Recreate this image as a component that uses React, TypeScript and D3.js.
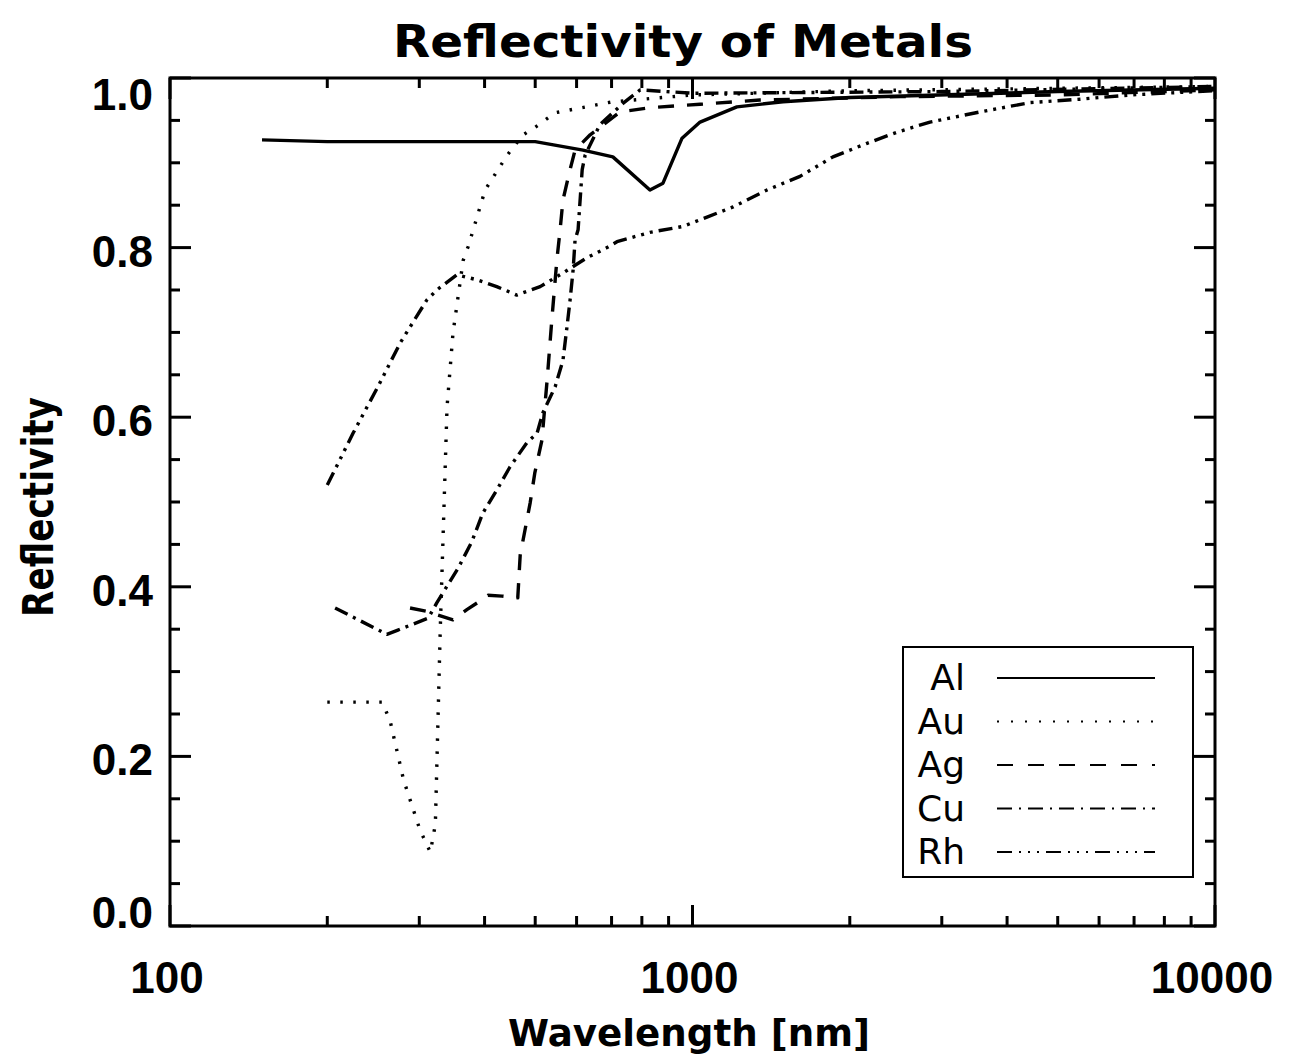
import React from 'react';
import * as d3 from 'd3';

const W = 1291;
const H = 1060;
const margin = { left: 170, right: 76, top: 78, bottom: 134 };

// wavelength [nm], reflectivity
const alWave = [150, 200, 500, 617, 704, 829, 878, 955, 1034, 1216, 1490, 2000, 5000, 10000];
const alRefl = [0.927, 0.925, 0.925, 0.915, 0.907, 0.868, 0.876, 0.929, 0.948, 0.966, 0.972, 0.977, 0.984, 0.988];

const auWave = [200, 255, 264, 280, 301, 315, 322, 329, 339, 348, 364, 372, 401, 442, 474, 500, 546, 704, 1000, 2000, 10000];
const auRefl = [0.264, 0.264, 0.241, 0.172, 0.113, 0.087, 0.12, 0.349, 0.612, 0.699, 0.785, 0.801, 0.868, 0.909, 0.933, 0.942, 0.959, 0.972, 0.98, 0.985, 0.99];

const agWave = [288, 310, 348, 370, 387, 406, 432, 463, 468, 478, 489, 499, 515, 527, 538, 550, 558, 565, 583, 596, 637, 727, 829, 1034, 1346, 2500, 5000, 10000];
const agRefl = [0.375, 0.371, 0.361, 0.373, 0.381, 0.39, 0.389, 0.387, 0.4375, 0.467, 0.499, 0.534, 0.573, 0.644, 0.715, 0.785, 0.821, 0.856, 0.892, 0.915, 0.933, 0.96, 0.965, 0.969, 0.974, 0.978, 0.98, 0.986];

const cuWave = [207, 260, 273, 312, 324, 333, 356, 378, 397, 422, 447, 482, 504, 517, 546, 565, 575, 583, 591, 596, 604, 615, 623, 665, 736, 794, 1000, 3000, 10000];
const cuRefl = [0.375, 0.344, 0.349, 0.363, 0.381, 0.393, 0.422, 0.453, 0.487, 0.514, 0.541, 0.57, 0.581, 0.605, 0.636, 0.667, 0.706, 0.738, 0.774, 0.809, 0.821, 0.892, 0.909, 0.945, 0.97, 0.986, 0.982, 0.984, 0.99];

const rhWave = [200, 224, 250, 276, 310, 324, 354, 387, 422, 461, 511, 565, 628, 686, 717, 829, 959, 1066, 1196, 1389, 1606, 1857, 2158, 2461, 2848, 3550, 4430, 5518, 6875, 8573, 10000];
const rhRefl = [0.52, 0.581, 0.636, 0.688, 0.738, 0.75, 0.768, 0.762, 0.754, 0.744, 0.754, 0.77, 0.788, 0.8, 0.807, 0.818, 0.825, 0.836, 0.848, 0.868, 0.884, 0.907, 0.923, 0.936, 0.948, 0.96, 0.971, 0.975, 0.98, 0.983, 0.985];

const metals = ['Al', 'Au', 'Ag', 'Cu', 'Rh'];
const waves = [alWave, auWave, agWave, cuWave, rhWave];
const refls = [alRefl, auRefl, agRefl, cuRefl, rhRefl];
const dashes = ['', '2.5 10.5', '16 13', '14 6 3 6', '14 6 3 6 3 6 3 6'];
const legendDashes = ['', '2 12', '16 15', '15 7 2 7', '15 7 2 7 2 7 2 7'];

const xTicks = [100, 1000, 10000];
const xTickLabels = ['100', '1000', '10000'];
const yTicks = [0, 0.2, 0.4, 0.6, 0.8, 1.0];
const yTickLabels = ['0.0', '0.2', '0.4', '0.6', '0.8', '1.0'];

export default function App() {
  const x = d3.scaleLog().domain([100, 10000]).range([margin.left, W - margin.right]);
  const y = d3.scaleLinear().domain([0, 1]).range([H - margin.bottom, margin.top]);
  const x0 = x.range()[0], x1 = x.range()[1];
  const y0 = y.range()[0], y1 = y.range()[1];

  const line = d3.line<[number, number]>().x(d => x(d[0])).y(d => y(d[1]));

  const minorX: number[] = [];
  [100, 1000].forEach(dec => { for (let k = 2; k <= 9; k++) minorX.push(dec * k); });
  const minorY = d3.range(0, 1.0001, 0.05).filter(v => Math.abs(v * 5 - Math.round(v * 5)) > 1e-6);

  const tickFont = "'Liberation Sans', Arial, sans-serif";
  const legX = 903, legY = 647;

  // IDL keeps the end labels inside the axis range
  const yLabelBase = (i: number, t: number) => {
    if (i === 0) return y(t) + 2;
    if (i === yTicks.length - 1) return y(t) + 32;
    return y(t) + 19;
  };

  return (
    <svg width={W} height={H} style={{ position: 'absolute', left: 0, top: 0, background: '#fff' }}>
      <rect width={W} height={H} fill="#fff" />
      {/* data */}
      {metals.map((m, i) => (
        <path key={m} d={line(waves[i].map((w, j) => [w, refls[i][j]] as [number, number])) || ''}
          fill="none" stroke="#000" strokeWidth={3.4} strokeDasharray={dashes[i]} strokeLinejoin="round" />
      ))}
      {/* frame */}
      <rect x={x0} y={y1} width={x1 - x0} height={y0 - y1} fill="none" stroke="#000" strokeWidth={3} />
      {/* x ticks */}
      {xTicks.map(t => (
        <g key={'xt' + t}>
          <line x1={x(t)} x2={x(t)} y1={y0} y2={y0 - 21} stroke="#000" strokeWidth={3} />
          <line x1={x(t)} x2={x(t)} y1={y1} y2={y1 + 21} stroke="#000" strokeWidth={3} />
        </g>
      ))}
      {minorX.map(t => (
        <g key={'xm' + t}>
          <line x1={x(t)} x2={x(t)} y1={y0} y2={y0 - 10} stroke="#000" strokeWidth={3} />
          <line x1={x(t)} x2={x(t)} y1={y1} y2={y1 + 10} stroke="#000" strokeWidth={3} />
        </g>
      ))}
      {yTicks.map(t => (
        <g key={'yt' + t}>
          <line x1={x0} x2={x0 + 21} y1={y(t)} y2={y(t)} stroke="#000" strokeWidth={3} />
          <line x1={x1} x2={x1 - 21} y1={y(t)} y2={y(t)} stroke="#000" strokeWidth={3} />
        </g>
      ))}
      {minorY.map(t => (
        <g key={'ym' + t}>
          <line x1={x0} x2={x0 + 10} y1={y(t)} y2={y(t)} stroke="#000" strokeWidth={3} />
          <line x1={x1} x2={x1 - 10} y1={y(t)} y2={y(t)} stroke="#000" strokeWidth={3} />
        </g>
      ))}
      {/* tick labels */}
      {yTicks.map((t, i) => (
        <text key={'yl' + t} x={x0 - 17} y={yLabelBase(i, t)} textAnchor="end" fontFamily={tickFont}
          fontWeight="bold" fontSize={44}>{yTickLabels[i]}</text>
      ))}
      {xTicks.map((t, i) => (
        <text key={'xl' + t} x={x(t) - 3} y={y0 + 67} textAnchor="middle" fontFamily={tickFont}
          fontWeight="bold" fontSize={44}>{xTickLabels[i]}</text>
      ))}
      {/* titles */}
      <text x={393} y={57} fontFamily="'DejaVu Sans', sans-serif" fontWeight="bold" fontSize={44}
        textLength={580} lengthAdjust="spacingAndGlyphs">Reflectivity of Metals</text>
      <text x={508} y={1046} fontFamily="'DejaVu Sans', sans-serif" fontWeight="bold" fontSize={38}
        textLength={362} lengthAdjust="spacingAndGlyphs">Wavelength [nm]</text>
      <text transform="translate(53,617) rotate(-90)" fontFamily="'DejaVu Sans', sans-serif" fontWeight="bold"
        fontSize={42} textLength={220} lengthAdjust="spacingAndGlyphs">Reflectivity</text>
      {/* legend */}
      <rect x={legX} y={legY} width={290} height={230} fill="#fff" stroke="#000" strokeWidth={2} />
      {metals.map((m, i) => {
        const ly = 678 + i * 43.5;
        return (
          <g key={'lg' + m}>
            <text x={965} y={ly + 12} textAnchor="end" fontFamily="'DejaVu Sans', sans-serif" fontSize={36}>{m}</text>
            <line x1={997} x2={1155} y1={ly} y2={ly} stroke="#000" strokeWidth={2} strokeDasharray={legendDashes[i]} />
          </g>
        );
      })}
    </svg>
  );
}
